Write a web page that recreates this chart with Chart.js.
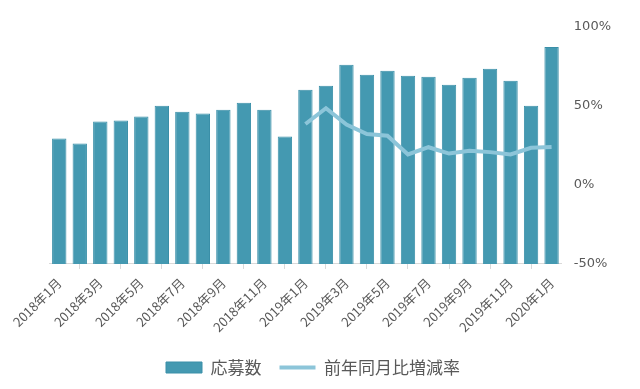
<!DOCTYPE html>
<html>
<head>
<meta charset="utf-8">
<script src="https://cdn.jsdelivr.net/npm/chart.js@4"></script>
<style>
  html, body { margin: 0; padding: 0; background: #fff; }
  #wrap { width: 640px; height: 389px; }
</style>
</head>
<body>
<div id="wrap"><canvas id="chart" width="640" height="389"></canvas></div>
<script>
// months shown on the x axis
const months = [
    '2018年1月', '2018年2月', '2018年3月', '2018年4月', '2018年5月', '2018年6月',
    '2018年7月', '2018年8月', '2018年9月', '2018年10月', '2018年11月', '2018年12月',
    '2019年1月', '2019年2月', '2019年3月', '2019年4月', '2019年5月', '2019年6月',
    '2019年7月', '2019年8月', '2019年9月', '2019年10月', '2019年11月', '2019年12月',
    '2020年1月'
];

// applications (index, left axis is hidden)
const applications = [
    126, 121, 143, 144, 148, 159, 153, 151, 155, 162, 155, 128,
    175, 179, 200, 190, 194, 189, 188, 180, 187, 196, 184, 159, 218
];

// year-on-year change (%), only from 2019
const yoyChange = [
    null, null, null, null, null, null, null, null, null, null, null, null,
    38.6, 48.6, 38.2, 32.3, 31.2, 19.3, 23.9, 19.9, 21.6, 20.8, 19.3, 23.5, 24.1
];

const rightTicks = [-50, 0, 50, 100];

const textColor = '#595959';
const axisColor = '#d9d9d9';
const cjkFont = "'Noto Sans CJK JP', 'Noto Sans', sans-serif";

// the legend sits a little left of centre in the original
const legendShift = {
    id: 'legendShift',
    afterLayout(chart) {
        chart.legend.left -= 38;
    }
};

const ctx = document.getElementById('chart').getContext('2d');
const chart = new Chart(ctx, {
    data: {
        labels: months,
        datasets: [
            {
                type: 'bar',
                label: '応募数',
                data: applications,
                backgroundColor: '#4499b1',
                borderColor: '#3a8fa8',
                borderWidth: 1,
                categoryPercentage: 1,
                barPercentage: 0.7,
                yAxisID: 'y',
                pointStyle: 'rect',
                order: 1
            },
            {
                type: 'line',
                label: '前年同月比増減率',
                data: yoyChange,
                borderColor: '#8cc5d9',
                backgroundColor: '#8cc5d9',
                borderWidth: 4,
                pointRadius: 0,
                tension: 0,
                yAxisID: 'y1',
                pointStyle: 'line',
                order: 0
            }
        ]
    },
    options: {
        responsive: false,
        animation: false,
        layout: {
            padding: { left: 49, right: 25, top: 27, bottom: 3 }
        },
        plugins: {
            tooltip: { enabled: false },
            legend: {
                position: 'bottom',
                reverse: true,
                labels: {
                    usePointStyle: true,
                    pointStyleWidth: 36,
                    boxHeight: 11,
                    padding: 18,
                    color: textColor,
                    font: { family: cjkFont, size: 17 }
                }
            }
        },
        scales: {
            x: {
                grid: {
                    drawOnChartArea: false,
                    offset: true,
                    color: axisColor,
                    tickLength: 5
                },
                border: { color: axisColor },
                ticks: {
                    autoSkip: false,
                    maxRotation: 45,
                    minRotation: 45,
                    padding: 6,
                    color: textColor,
                    font: { family: cjkFont, size: 13 },
                    callback: function (value, index) {
                        return index % 2 === 0 ? this.getLabelForValue(value) : null;
                    }
                }
            },
            y: {
                display: false,
                min: 0,
                max: 238
            },
            y1: {
                position: 'right',
                min: -50,
                max: 100,
                grid: { display: false },
                border: { display: false },
                afterBuildTicks: (axis) => {
                    axis.ticks = rightTicks.map(v => ({ value: v }));
                },
                ticks: {
                    padding: 4,
                    color: textColor,
                    font: { family: "'DejaVu Sans', sans-serif", size: 13 },
                    callback: (v) => v + '%'
                }
            }
        }
    },
    plugins: [legendShift]
});
</script>
</body>
</html>
